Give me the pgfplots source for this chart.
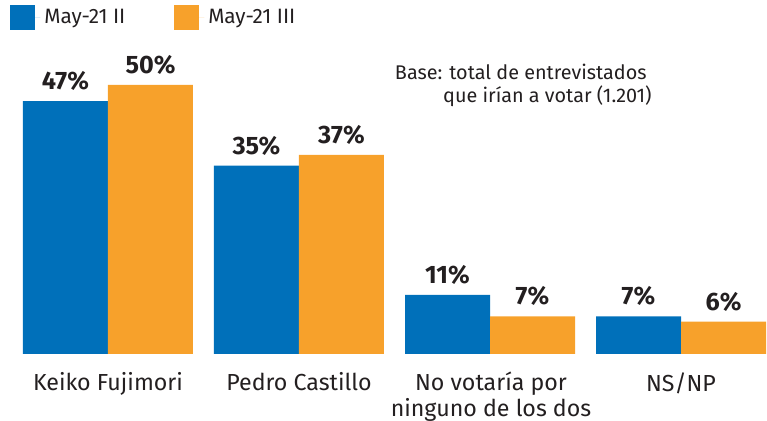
\documentclass[border=0pt]{standalone}
\usepackage{fontspec}
\setmainfont{Fira Sans}
\usepackage{pgfplots}
\pgfplotsset{compat=1.18}
\definecolor{cblue}{HTML}{0070BA}
\definecolor{corange}{HTML}{F7A12B}
\definecolor{ctext}{HTML}{231F20}
\begin{document}
\begin{tikzpicture}
\path[use as bounding box] (-11pt,-33.5pt) rectangle (372.5pt,177pt);
\begin{axis}[
  at={(0pt,0pt)}, anchor=south west,
  scale only axis, width=372.5pt, height=161.4pt,
  ybar=0pt, bar width=42.5pt,
  ymin=0, ymax=60, xmin=-0.45, xmax=3.45,
  axis lines=none,
  xtick=\empty,
  nodes near coords={\pgfmathprintnumber[assume math mode=true]{\pgfplotspointmeta}\%},
  every node near coord/.append style={font=\fontsize{12.6}{14}\selectfont\bfseries, text=ctext, inner sep=0pt, yshift=5pt, anchor=south},
  legend columns=2,
  legend style={draw=none, fill=none, at={(axis description cs:-0.0161,1.0418)}, anchor=west, font=\fontsize{10.4}{12}\selectfont, text=ctext, inner sep=0pt, /tikz/every even column/.append style={column sep=22.5pt}},
  legend image code/.code={\fill[#1] (0pt,-6.25pt) rectangle (12.5pt,6.25pt); \path (0pt,0pt) -- (15pt,0pt);},
  legend cell align=left,
]
\addplot[fill=cblue, draw=none] coordinates {(0,47) (1,35) (2,11) (3,7)};
\addplot[fill=corange, draw=none] coordinates {(0,50) (1,37) (2,7) (3,6)};
\legend{May-21 II, May-21 III}
\end{axis}
\begin{scope}[text=ctext, every node/.style={anchor=north, align=center, font=\fontsize{11.6}{13}\selectfont, inner sep=0pt}]
\node at (43pt,-9pt) {Keiko Fujimori};
\node at (138.5pt,-9pt) {Pedro Castillo};
\node at (234.5pt,-9pt) {No votaría por\\ninguno de los dos};
\node at (329.5pt,-9pt) {NS/NP};
\end{scope}
\node[text=ctext, anchor=base east, font=\fontsize{9.9}{11.5}\selectfont, inner sep=0pt] at (312.5pt,137pt) {Base: total de entrevistados};
\node[text=ctext, anchor=base east, font=\fontsize{9.9}{11.5}\selectfont, inner sep=0pt] at (315pt,125.5pt) {que irían a votar (1.201)};
\end{tikzpicture}
\end{document}
